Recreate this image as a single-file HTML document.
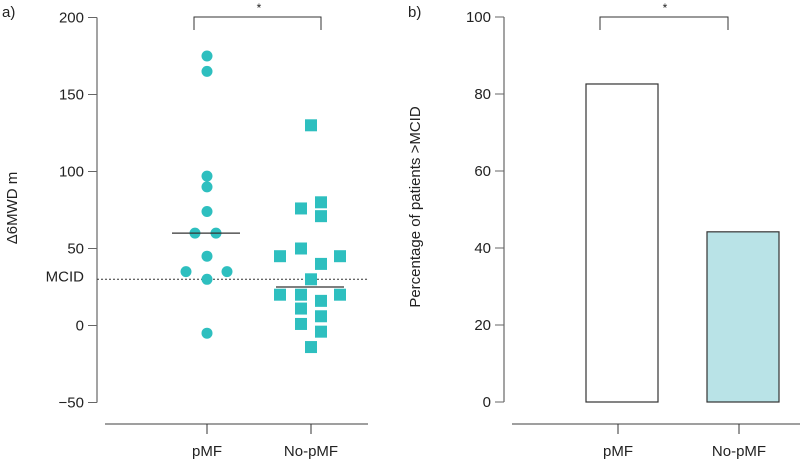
<!DOCTYPE html>
<html><head><meta charset="utf-8"><style>
body{margin:0;background:#fff}
svg text{font-family:"Liberation Sans",sans-serif;fill:#222}
</style></head><body>
<svg width="800" height="467" id="fig">
<text x="2" y="17" font-size="15">a)</text>
<text x="408" y="17" font-size="15">b)</text>
<g id="a"></g><g id="b"></g>
</svg>
<script>
const groupsA=["pMF","No-pMF"];
const pmfVals=[175,165,97,90,74,60,60,45,35,35,30,-5];
const pmfOff=[0,0,0,0,0,-12,9,0,-21,20,0,0];
const nopmfVals=[130,76,80,71,50,45,45,40,30,20,20,20,16,11,6,1,-4,-14];
const nopmfOff=[0,-10,10,10,-10,-31,29,10,0,-31,-10,29,10,-10,10,-10,10,0];
const mediansA=[60,25];
const ticksA=[200,150,100,50,0,-50];
const mcid=30;
const groupsB=["pMF","No-pMF"];
const pctVals=[82.6,44.2];
const ticksB=[100,80,60,40,20,0];
const NS="http://www.w3.org/2000/svg";
function mk(p,t,a){const e=document.createElementNS(NS,t);for(const k in a)e.setAttribute(k,a[k]);p.appendChild(e);return e;}
// Panel A
const A=document.getElementById('a');
const yA=v=>325.5-v*1.54;
const xA=i=>[207,311][i];
let e=mk(A,'line',{x1:97,y1:yA(200),x2:97,y2:yA(-50),stroke:'#666','stroke-width':1.2});

ticksA.forEach(t=>{mk(A,'line',{x1:88,x2:97,y1:yA(t),y2:yA(t),stroke:'#666'});
 e=mk(A,'text',{x:84,y:yA(t)+5,'font-size':15,'text-anchor':'end'});e.textContent=t<0?'\u2212'+(-t):t;
 });
e=mk(A,'text',{x:84,y:yA(mcid)+2,'font-size':15,'text-anchor':'end'});e.textContent='MCID';

e=mk(A,'line',{x1:97,x2:369,y1:yA(mcid),y2:yA(mcid),stroke:'#333','stroke-dasharray':'2,2'});

e=mk(A,'text',{x:0,y:0,'font-size':15,'text-anchor':'middle',transform:`translate(17,208) rotate(-90)`});e.textContent='\u03946MWD m';

e=mk(A,'line',{x1:105,x2:368,y1:424,y2:424,stroke:'#666','stroke-width':1.2});

groupsA.forEach((g,i)=>{mk(A,'line',{x1:xA(i),x2:xA(i),y1:424,y2:434,stroke:'#333'});
 e=mk(A,'text',{x:xA(i),y:456,'font-size':15,'text-anchor':'middle'});e.textContent=g;
 });
pmfVals.forEach((v,i)=>{e=mk(A,'circle',{cx:xA(0)+pmfOff[i],cy:yA(v),r:5.5,fill:'#2ebfbf'});
 });
nopmfVals.forEach((v,i)=>{e=mk(A,'rect',{x:xA(1)+nopmfOff[i]-6,y:yA(v)-6,width:12,height:12,fill:'#2ebfbf'});
 });
mediansA.forEach((m,i)=>{e=mk(A,'line',{x1:xA(i)-35,x2:xA(i)+33,y1:yA(m),y2:yA(m),stroke:'#333','stroke-width':1.2});
 });
e=mk(A,'path',{d:'M194,30V17H321V30',fill:'none',stroke:'#333'});

e=mk(A,'text',{x:259,y:12,'font-size':12,'text-anchor':'middle'});e.textContent='*';

// Panel B
const B=document.getElementById('b');
const yB=v=>402-v*3.85;
const xB=i=>[618,739][i];
e=mk(B,'line',{x1:504,y1:yB(100),x2:504,y2:yB(0),stroke:'#666','stroke-width':1.2});

ticksB.forEach(t=>{mk(B,'line',{x1:495,x2:504,y1:yB(t),y2:yB(t),stroke:'#666'});
 e=mk(B,'text',{x:491,y:yB(t)+5,'font-size':15,'text-anchor':'end'});e.textContent=t;
 });
e=mk(B,'text',{x:0,y:0,'font-size':15,'text-anchor':'middle',transform:`translate(420,207) rotate(-90)`});e.textContent='Percentage of patients >MCID';

e=mk(B,'line',{x1:512,x2:800,y1:424,y2:424,stroke:'#666','stroke-width':1.2});

groupsB.forEach((g,i)=>{mk(B,'line',{x1:xB(i),x2:xB(i),y1:424,y2:434,stroke:'#333'});
 e=mk(B,'text',{x:xB(i),y:456,'font-size':15,'text-anchor':'middle'});e.textContent=g;
 });
pctVals.forEach((v,i)=>{e=mk(B,'rect',{x:xB(i)-32,y:yB(v),width:72,height:yB(0)-yB(v),fill:i?'#b9e3e7':'#fff',stroke:'#333','stroke-width':1.2});
 });
e=mk(B,'path',{d:'M600,30V17H728V30',fill:'none',stroke:'#333'});

e=mk(B,'text',{x:665,y:12,'font-size':12,'text-anchor':'middle'});e.textContent='*';

</script>
</body></html>
